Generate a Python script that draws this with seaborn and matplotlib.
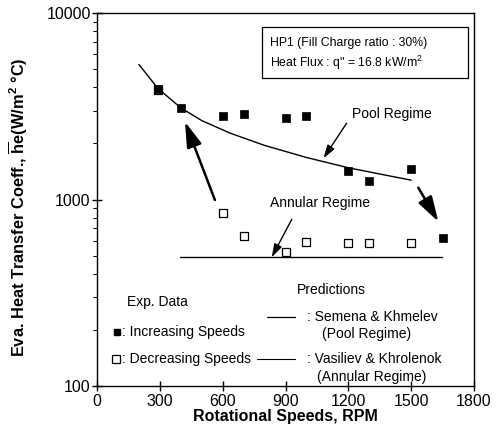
import numpy as np
import pandas as pd
import matplotlib
matplotlib.use("Agg")
import matplotlib.pyplot as plt
import matplotlib.ticker as mticker
from matplotlib.patches import Rectangle
import seaborn as sns

# ---- data ----
inc_rpm = [290, 400, 600, 700, 900, 1000, 1200, 1300, 1500, 1650]
inc_h = [3900, 3100, 2810, 2870, 2750, 2800, 1425, 1256, 1460, 620]
dec_rpm = [290, 600, 700, 900, 1000, 1200, 1300, 1500]
dec_h = [3850, 850, 640, 520, 590, 585, 585, 585]
pool_rpm = [200, 290, 400, 500, 635, 800, 1000, 1200, 1350, 1500]
pool_h = [5300, 3950, 3100, 2650, 2270, 1950, 1680, 1480, 1370, 1270]
ann_rpm = [396, 1646]
ann_h = [490, 490]
xticks = [0, 300, 600, 900, 1200, 1500, 1800]
yticks = [100, 1000, 10000]

sns.set_theme(style="ticks")
plt.rcParams['font.family'] = ['Liberation Sans', 'DejaVu Sans']
plt.rcParams['mathtext.fontset'] = 'custom'
plt.rcParams['mathtext.rm'] = 'Liberation Sans'
plt.rcParams['mathtext.bf'] = 'Liberation Sans:bold'
plt.rcParams['mathtext.it'] = 'Liberation Sans:italic'
plt.rcParams['text.color'] = 'black'
plt.rcParams['axes.labelcolor'] = 'black'

fig = plt.figure(figsize=(4.97, 4.42), dpi=100)
ax = fig.add_axes([97/497, 1-386/442, 377/497, 373/442])

inc = pd.DataFrame({"rpm": inc_rpm, "h": inc_h})
dec = pd.DataFrame({"rpm": dec_rpm, "h": dec_h})
pool = pd.DataFrame({"rpm": pool_rpm, "h": pool_h})
ann = pd.DataFrame({"rpm": ann_rpm, "h": ann_h})

sns.lineplot(data=pool, x="rpm", y="h", ax=ax, color="black", lw=1.0, estimator=None, sort=False)
sns.lineplot(data=ann, x="rpm", y="h", ax=ax, color="black", lw=1.0, estimator=None, sort=False)
sns.scatterplot(data=dec, x="rpm", y="h", ax=ax, marker="s", s=36, facecolor="white",
                edgecolor="black", linewidth=0.9, zorder=3)
sns.scatterplot(data=inc, x="rpm", y="h", ax=ax, marker="s", s=36, color="black",
                edgecolor="black", linewidth=0.5, zorder=4)

ax.set_yscale("log")
ax.set_xlim(0, 1800)
ax.set_ylim(100, 10000)
ax.set_xticks(xticks)
ax.set_xticklabels([str(t) for t in xticks])
ax.yaxis.set_major_locator(mticker.FixedLocator(yticks))
ax.yaxis.set_major_formatter(mticker.FixedFormatter([str(t) for t in yticks]))
ax.yaxis.set_minor_locator(mticker.LogLocator(base=10, subs=np.arange(2, 10)))
ax.yaxis.set_minor_formatter(mticker.NullFormatter())
ax.tick_params(axis="both", which="major", direction="inout", length=7, width=1,
               labelsize=11.5, colors="black", pad=1)
ax.tick_params(axis="y", which="minor", direction="out", length=3, width=0.8, colors="black")
ax.tick_params(axis="x", which="major", pad=2)
for s in ax.spines.values():
    s.set_linewidth(1.0)
    s.set_color("black")

ax.set_xlabel("Rotational Speeds, RPM", fontsize=11.5, fontweight="bold", labelpad=0)
ax.set_ylabel(r"Eva. Heat Transfer Coeff., $\overline{\mathbf{h}}$e(W/m$^\mathbf{2}$ °C)",
              fontsize=11.8, fontweight="bold")
ax.yaxis.set_label_coords(-0.178, 0.48)

# arrows
big = dict(arrowstyle="-|>,head_length=1.1,head_width=0.33", color="black", lw=1.8,
           mutation_scale=14, shrinkA=0, shrinkB=0)
ax.annotate("", xy=(420, 2612), xytext=(563, 994), arrowprops=big)
ax.annotate("", xy=(1630, 760), xytext=(1534, 1157), arrowprops=big)
thin = dict(arrowstyle="-|>,head_length=0.8,head_width=0.25", color="black", lw=1.0,
            mutation_scale=10, shrinkA=0, shrinkB=0)
ax.annotate("", xy=(1081, 1663), xytext=(1192, 2565), arrowprops=thin)
ax.annotate("", xy=(834, 490), xytext=(930, 783), arrowprops=thin)

FS = 10
ax.text(1407, 2873, "Pool Regime", fontsize=FS, ha="center", va="center")
ax.text(1065, 961, "Annular Regime", fontsize=FS, ha="center", va="center")

# info box
ax.add_patch(Rectangle((0.437, 0.825), 0.548, 0.138, transform=ax.transAxes,
                       fill=False, edgecolor="black", lw=0.9))
ax.text(0.459, 0.920, "HP1 (Fill Charge ratio : 30%)", transform=ax.transAxes,
        fontsize=8.8, ha="left", va="center")
ax.text(0.459, 0.865, "Heat Flux : q\" = 16.8 kW/m$^2$", transform=ax.transAxes,
        fontsize=8.8, ha="left", va="center")

# manual legend
T = ax.transAxes
ax.text(0.079, 0.226, "Exp. Data", transform=T, fontsize=FS, ha="left", va="center")
ax.text(0.622, 0.257, "Predictions", transform=T, fontsize=FS, ha="center", va="center")
ax.plot([0.052], [0.146], "s", transform=T, ms=5, color="black", clip_on=False)
ax.text(0.066, 0.146, ": Increasing Speeds", transform=T, fontsize=FS, ha="left", va="center")
ax.plot([0.050], [0.072], "s", transform=T, ms=6, mfc="white", mec="black", mew=0.9, clip_on=False)
ax.text(0.066, 0.072, ": Decreasing Speeds", transform=T, fontsize=FS, ha="left", va="center")
ax.plot([0.450, 0.525], [0.186, 0.186], transform=T, color="black", lw=0.9)
ax.text(0.556, 0.186, ": Semena & Khmelev", transform=T, fontsize=FS, ha="left", va="center")
ax.text(0.716, 0.139, "(Pool Regime)", transform=T, fontsize=FS, ha="center", va="center")
ax.plot([0.424, 0.525], [0.072, 0.072], transform=T, color="black", lw=0.8)
ax.text(0.556, 0.072, ": Vasiliev & Khrolenok", transform=T, fontsize=FS, ha="left", va="center")
ax.text(0.729, 0.025, "(Annular Regime)", transform=T, fontsize=FS, ha="center", va="center")

fig.savefig("out.png", dpi=100)
